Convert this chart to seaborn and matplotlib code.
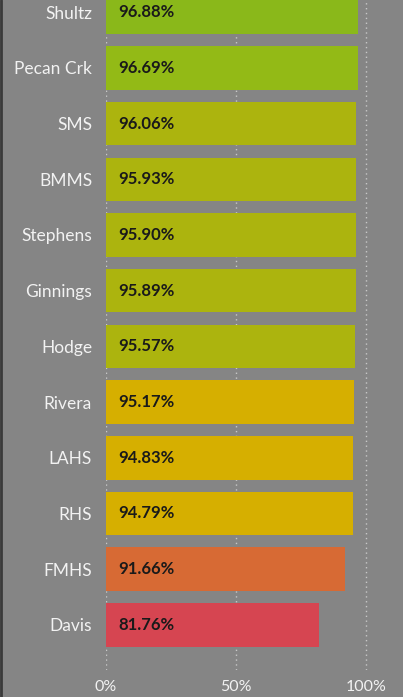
import numpy as np
import pandas as pd
import matplotlib
matplotlib.use("Agg")
import matplotlib.pyplot as plt
import seaborn as sns
from matplotlib.lines import Line2D

schools = ["Shultz", "Pecan Crk", "SMS", "BMMS", "Stephens", "Ginnings",
           "Hodge", "Rivera", "LAHS", "RHS", "FMHS", "Davis"]
rates = [96.88, 96.69, 96.06, 95.93, 95.90, 95.89,
         95.57, 95.17, 94.83, 94.79, 91.66, 81.76]
bar_colors = ["#8AB81A", "#93BA16", "#ACB40E", "#ACB40E", "#ACB40E", "#ACB40E",
              "#ACB40E", "#D6AF00", "#D6AF00", "#D6AF00", "#D76A34", "#D64551"]
x_ticks = [0, 50, 100]
x_tick_labels = ["0%", "50%", "100%"]

bg = "#858585"
sns.set_style("white")
plt.rcParams["font.family"] = ["Lato", "DejaVu Sans"]

df = pd.DataFrame({"School": schools, "Rate": rates})

fig = plt.figure(figsize=(4.03, 6.97), dpi=100, facecolor=bg)
ax = fig.add_axes([106 / 403, 27 / 697, (403 - 106) / 403, 670 / 697])
ax.set_facecolor(bg)

sns.barplot(data=df, x="Rate", y="School", hue="School", palette=bar_colors,
            legend=False, orient="h", width=0.78, saturation=1, linewidth=0,
            ax=ax, zorder=2)

ax.set_xlim(0, (403 - 106) / 2.603)
ax.set_ylim(11.81, -0.219)
ax.set_xticks(x_ticks)
ax.set_xticklabels(x_tick_labels)
ax.grid(axis="x", linestyle=(0, (1, 2.5)), color="#C8C8C8", linewidth=1, zorder=0)
ax.set_axisbelow(True)
ax.tick_params(axis="x", length=0, labelsize=11.5, colors="#F2F2F2", pad=7)
ax.tick_params(axis="y", length=0, labelsize=12.5, colors="#F2F2F2", pad=10)
ax.set_xlabel("")
ax.set_ylabel("")
for s in ax.spines.values():
    s.set_visible(False)

for i, v in enumerate(rates):
    ax.annotate(f"{v:.2f}%", xy=(0, i), xytext=(12, 0), textcoords="offset pixels",
                ha="left", va="center", fontsize=12, fontweight="bold",
                color="#1A1A1A", zorder=3)

fig.add_artist(Line2D([0.002, 0.002], [0, 1], transform=fig.transFigure,
                      color="#3A3A3A", linewidth=2))

plt.savefig("out.png", dpi=100, facecolor=bg)
